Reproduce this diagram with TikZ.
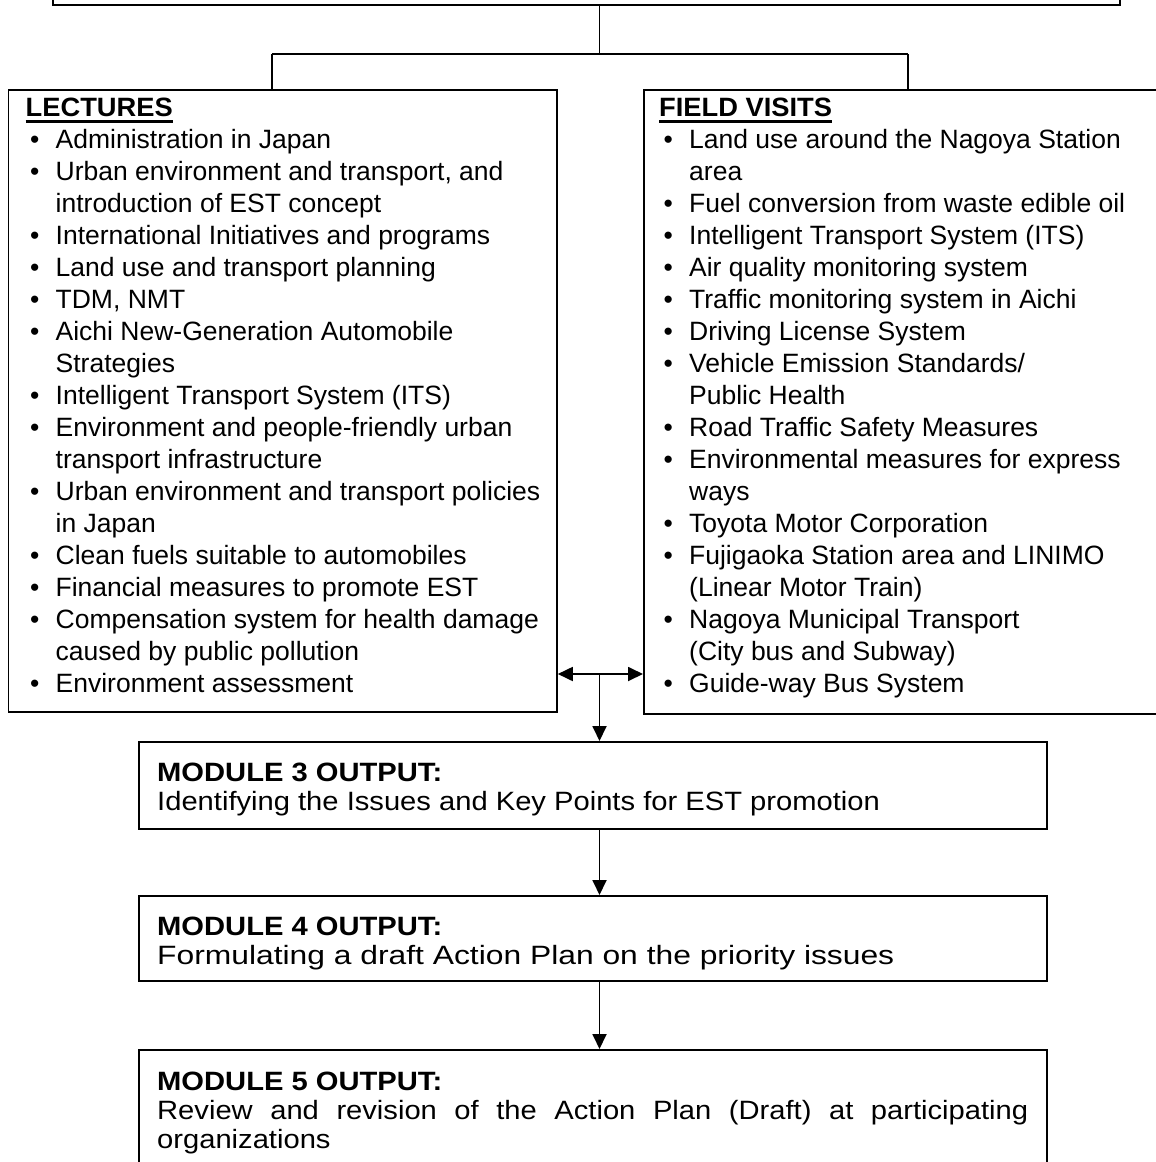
\documentclass[tikz,border=0pt]{standalone}
\usepackage{fontspec}
\setmainfont{Liberation Sans}
\newfontfamily\modfont[FakeStretch=1.1]{Liberation Sans}
\newfontfamily\modwide[FakeStretch=1.2]{Liberation Sans}
\newfontfamily\hdfont[FakeStretch=1.03]{Liberation Sans}
\usetikzlibrary{arrows.meta}
\newcommand\hdul[1]{\leavevmode\setbox0\hbox{#1}\rlap{\rule[-6.5pt]{\wd0}{2.5pt}}\box0}
\newcommand\bitem[1]{\par\noindent\hangindent=30pt\hangafter=1\makebox[30pt][l]{\hspace{4.4pt}\textbullet}#1}
\newcommand\listfont{\fontsize{26.5pt}{32pt}\selectfont}
\newcommand\modtext{\modfont\fontsize{26.5pt}{29pt}\selectfont\hyphenpenalty=10000\exhyphenpenalty=10000\tolerance=10000}
\begin{document}
\begin{tikzpicture}[x=1pt,y=1pt,
  box/.style={draw, line width=1.8pt, rectangle, inner sep=0pt, anchor=north west},
  conn/.style={line width=1.8pt},
  arr/.style={conn, -{Triangle[length=15pt,width=14pt]}},
  darr/.style={conn, {Triangle[length=15pt,width=14pt]}-{Triangle[length=15pt,width=14pt]}},
  txt/.style={anchor=base west, inner sep=0pt}]
\useasboundingbox (0,0) rectangle (1156,-1162);
\clip (0,0) rectangle (1156,-1162);
% boxes
\node[box, minimum width=1067pt, minimum height=80pt, anchor=south west] (top) at (52,-6) {};
\node[box, minimum width=548.5pt, minimum height=622pt] (lec) at (7.5,-89) {};
\node[box, minimum width=560pt, minimum height=624pt] (fld) at (643,-89) {};
\node[box, minimum width=908pt, minimum height=87pt] (m3) at (138,-741) {};
\node[box, minimum width=908pt, minimum height=85pt] (m4) at (138,-895) {};
\node[box, minimum width=908pt, minimum height=150pt] (m5) at (138,-1049) {};
% texts
\node[txt] (lecT) at (25.5,-116) {\begin{minipage}[t]{525pt}\raggedright\listfont
{\hdfont\bfseries\hdul{LECTURES}}
\bitem{Administration in Japan}
\bitem{Urban environment and transport, and\newline introduction of EST concept}
\bitem{International Initiatives and programs}
\bitem{Land use and transport planning}
\bitem{TDM, NMT}
\bitem{Aichi New-Generation Automobile\newline Strategies}
\bitem{Intelligent Transport System (ITS)}
\bitem{Environment and people-friendly urban\newline transport infrastructure}
\bitem{Urban environment and transport policies\newline in Japan}
\bitem{Clean fuels suitable to automobiles}
\bitem{Financial measures to promote EST}
\bitem{Compensation system for health damage\newline caused by public pollution}
\bitem{Environment assessment}
\end{minipage}};
\node[txt] (fldT) at (659,-116) {\begin{minipage}[t]{500pt}\raggedright\listfont
{\hdfont\bfseries\hdul{FIELD VISITS}}
\bitem{Land use around the Nagoya Station\newline area}
\bitem{Fuel conversion from waste edible oil}
\bitem{Intelligent Transport System (ITS)}
\bitem{Air quality monitoring system}
\bitem{Traffic monitoring system in Aichi}
\bitem{Driving License System}
\bitem{Vehicle Emission Standards/\newline Public Health}
\bitem{Road Traffic Safety Measures}
\bitem{Environmental measures for express\newline ways}
\bitem{Toyota Motor Corporation}
\bitem{Fujigaoka Station area and LINIMO\newline (Linear Motor Train)}
\bitem{Nagoya Municipal Transport\newline (City bus and Subway)}
\bitem{Guide-way Bus System}
\end{minipage}};
\node[txt] (m3T) at (157,-781) {\begin{minipage}[t]{871pt}\modtext
{\bfseries MODULE 3 OUTPUT:}\newline Identifying the Issues and Key Points for EST promotion\end{minipage}};
\node[txt] (m4T) at (157,-935) {\begin{minipage}[t]{871pt}\modtext
{\bfseries MODULE 4 OUTPUT:}\newline {\modwide Formulating a draft Action Plan on the priority issues}\end{minipage}};
\node[txt] (m5T) at (157,-1090) {\begin{minipage}[t]{871pt}\modtext
{\bfseries MODULE 5 OUTPUT:}\newline Review and revision of the Action Plan (Draft) at participating organizations\end{minipage}};
% connectors
\coordinate (jt) at (599.5,-54);
\coordinate (jl) at (272,-54);
\coordinate (jr) at (908,-54);
\coordinate (jm) at (599.5,-674);
\draw[conn] (top.south -| jt) -- (jt);
\draw[conn] (jl) -- (jr);
\draw[conn] (jl) -- (jl |- lec.north);
\draw[conn] (jr) -- (jr |- fld.north);
\draw[darr] (lec.east |- jm) -- (fld.west |- jm);
\draw[arr] (jm) -- (jm |- m3.north);
\draw[arr] (jm |- m3.south) -- (jm |- m4.north);
\draw[arr] (jm |- m4.south) -- (jm |- m5.north);
\end{tikzpicture}
\end{document}
